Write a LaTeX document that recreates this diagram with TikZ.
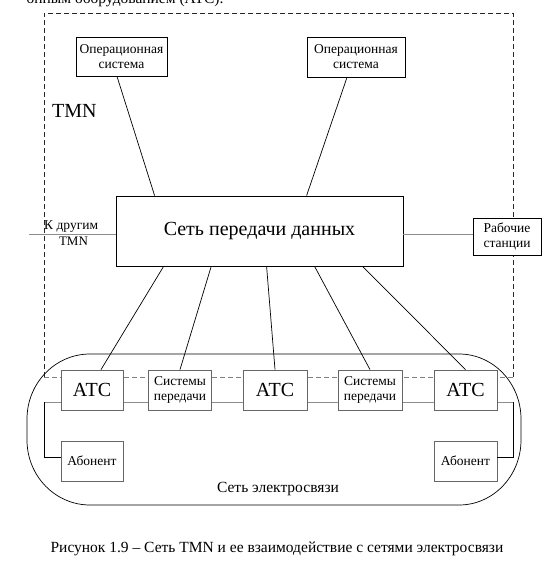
\documentclass[tikz,border=0pt]{standalone}
\usepackage{fontspec}
\setmainfont{Liberation Serif}
\usetikzlibrary{calc}
\begin{document}
\begin{tikzpicture}[x=1pt,y=-1pt,
  box/.style={draw, fill=white, inner sep=0pt, align=center, line width=0.8pt},
  grbox/.style={box, draw=black!60},
  small/.style={font=\fontsize{13.5}{15}\selectfont},
  big/.style={font=\fontsize{20}{22}\selectfont},
  conn/.style={line width=0.7pt},
  grayline/.style={line width=1pt, draw=black!45},
  dashline/.style={line width=0.8pt, dash pattern=on 5pt off 3pt}
]
\useasboundingbox (0,0) rectangle (553,570);

% cut-off text at the top
\node[anchor=base, font=\fontsize{15.5}{17}\selectfont, inner sep=0pt] (toptext) at (125,3.5) {онным оборудованием (АТС).};

% TMN dashed frame
\draw[dashline, draw=black!85] (44,377) -- (44,13) -- (513,13) -- (513,377);
\draw[dashline, draw=black!50] (44,377) -- (513,377);

% telecom network rounded frame
\draw[line width=0.7pt] (90,354) -- (459,354)
  arc[start angle=90, end angle=0, x radius=62pt, y radius=65pt] -- (521,440)
  arc[start angle=0, end angle=-90, x radius=62pt, y radius=65pt] -- (90,505)
  arc[start angle=270, end angle=180, x radius=63pt, y radius=65pt] -- (27,419)
  arc[start angle=180, end angle=90, x radius=63pt, y radius=65pt] -- cycle;

% nodes
\node[box, small, minimum width=91pt, minimum height=39pt] (op1) at (121.5,56.5) {Операционная\\система};
\node[box, small, minimum width=98pt, minimum height=40pt] (op2) at (356,57) {Операционная\\система};
\node[box, big, minimum width=287pt, minimum height=70pt] (data) at (259.5,231) {Сеть передачи данных};
\node[box, small, minimum width=68pt, minimum height=37pt] (rab) at (507,236.5) {Рабочие\\станции};

\node[anchor=base west, inner sep=0pt, font=\fontsize{20}{22}\selectfont] (tmn) at (52,117) {TMN};

\coordinate (k) at (29,234);
\coordinate (hl) at (44,402);
\coordinate (hr) at (513,402);

% gray chain line behind bottom row
\draw[grayline] (hl) -- (hr);
\draw[grayline] (k) -- (k -| data.west);
\draw[grayline] (data.east |- k) -- (rab.west |- k);

\node[anchor=base west, inner sep=0pt, font=\fontsize{13.5}{15}\selectfont] (kdr) at (44,229) {К другим};
\node[anchor=base, inner sep=0pt, font=\fontsize{13}{15}\selectfont] (ktmn) at (73.5,245) {TMN};

\node[grbox, big, minimum width=62pt, minimum height=40pt] (atc1) at (92,390) {АТС};
\node[grbox, small, minimum width=63pt, minimum height=40pt] (sys1) at (180,390) {Системы\\передачи};
\node[grbox, big, minimum width=64pt, minimum height=40pt] (atc2) at (275,390) {АТС};
\node[grbox, small, minimum width=64pt, minimum height=40pt] (sys2) at (370,390) {Системы\\передачи};
\node[grbox, big, minimum width=63pt, minimum height=40pt] (atc3) at (465.5,390) {АТС};
\node[grbox, small, minimum width=62pt, minimum height=40pt] (ab1) at (92,461) {Абонент};
\node[grbox, small, minimum width=63pt, minimum height=40pt] (ab2) at (465.5,461) {Абонент};

% connectors
\draw[conn] ([xshift=-4.5pt]op1.south) -- ([xshift=39pt]data.north west);
\draw[conn] ([xshift=-9pt]op2.south) -- ([xshift=191pt]data.north west);
\draw[conn] ([xshift=48pt]data.south west) -- ([xshift=9pt]atc1.north);
\draw[conn] ([xshift=95.6pt]data.south west) -- (sys1.north);
\draw[conn] ([xshift=151pt]data.south west) -- (atc2.north);
\draw[conn] ([xshift=199pt]data.south west) -- (sys2.north);
\draw[conn] ([xshift=247pt]data.south west) -- (atc3.north);
\draw[line width=0.9pt] (hl) |- ([yshift=4pt]ab1.west);
\draw[line width=0.9pt] (hr) |- ([yshift=4pt]ab2.east);

% labels
\node[anchor=base, inner sep=0pt, font=\fontsize{15.5}{17}\selectfont] (tel) at (278,492) {Сеть электросвязи};
\node[anchor=base, inner sep=0pt, font=\fontsize{15.5}{17}\selectfont] (cap) at (277,552) {Рисунок 1.9 – Сеть TMN и ее взаимодействие с сетями электросвязи};
\end{tikzpicture}
\end{document}
